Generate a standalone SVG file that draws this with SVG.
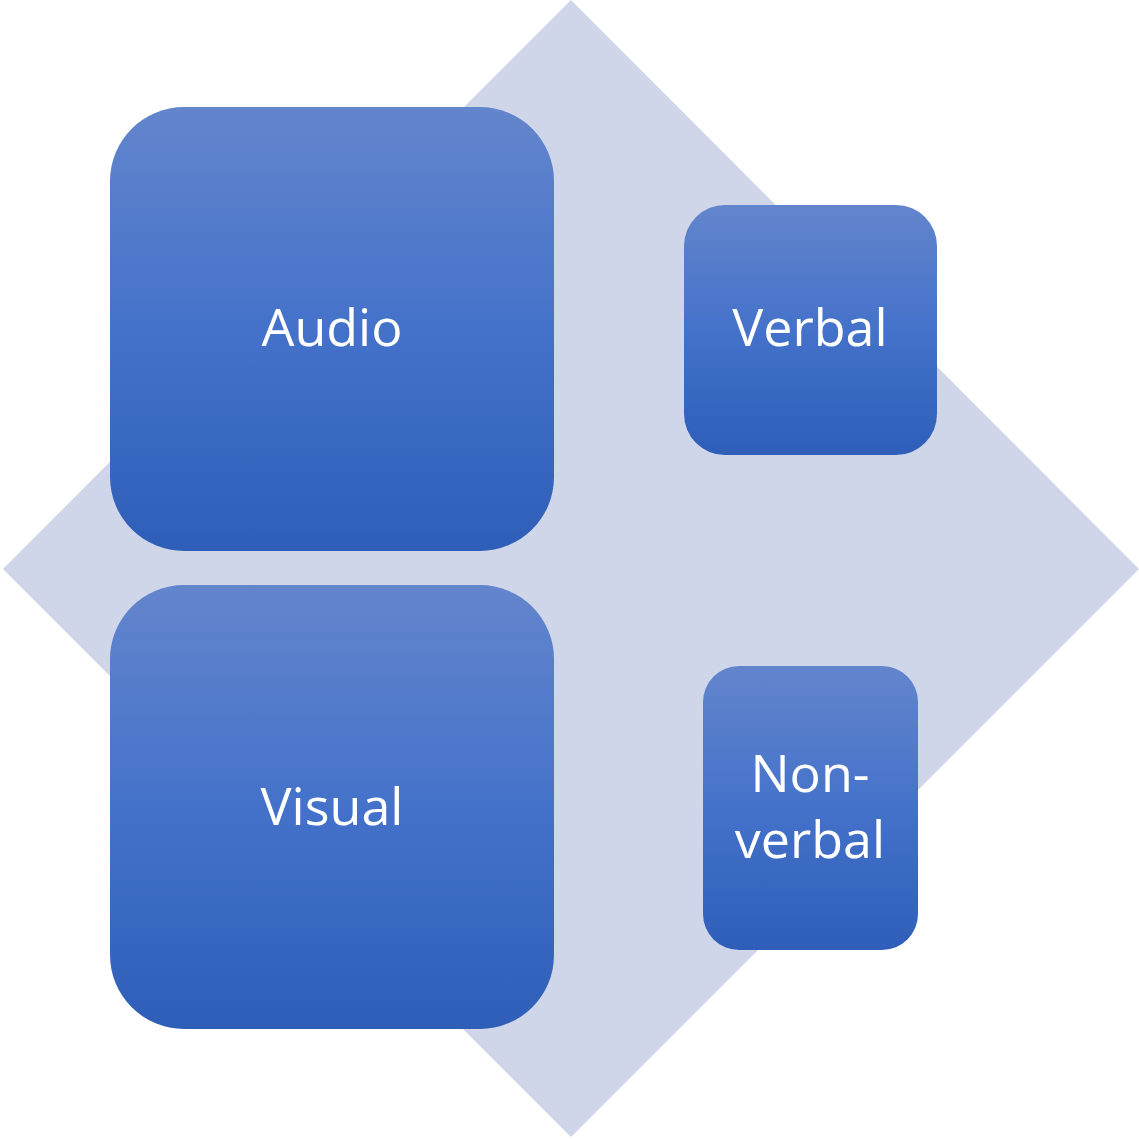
<svg xmlns="http://www.w3.org/2000/svg" width="1139" height="1139" viewBox="0 0 1139 1139">
  <defs>
    <linearGradient id="boxFill" x1="0" y1="0" x2="0" y2="1">
      <stop offset="0" stop-color="#6385CC"/>
      <stop offset="0.5" stop-color="#4472CA"/>
      <stop offset="1" stop-color="#2F5EB8"/>
    </linearGradient>
  </defs>
  <style>
    .box { fill: url(#boxFill); }
    .label { fill: #FFFFFF; font-family: "Open Sans", "Liberation Sans", sans-serif; font-size: 52px; text-anchor: middle; }
  </style>

  <!-- background diamond -->
  <polygon points="571,0 1139,569 571,1137 3,569" fill="#D0D6EA"/>

  <g id="connectors"></g>

  <g id="audio">
    <rect class="box" x="110" y="107" width="444" height="444" rx="74" ry="74"/>
    <text class="label" x="332" y="346">Audio</text>
  </g>

  <g id="visual">
    <rect class="box" x="110" y="585" width="444" height="444" rx="74" ry="74"/>
    <text class="label" x="332" y="825">Visual</text>
  </g>

  <g id="verbal">
    <rect class="box" x="684" y="205" width="253" height="250" rx="41" ry="41"/>
    <text class="label" x="810" y="346">Verbal</text>
  </g>

  <g id="non-verbal">
    <rect class="box" x="703" y="666" width="215" height="284" rx="36" ry="36"/>
    <text class="label" x="810" y="792">Non-</text>
    <text class="label" x="810" y="858">verbal</text>
  </g>
</svg>
